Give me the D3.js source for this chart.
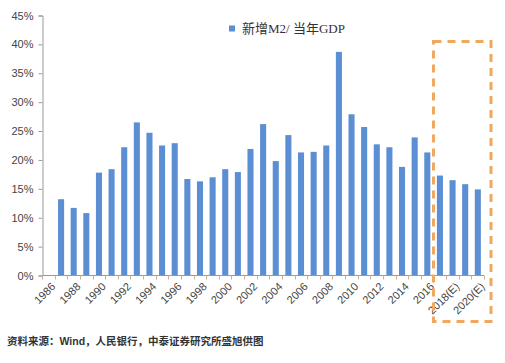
<!DOCTYPE html>
<html>
<head>
<meta charset="utf-8">
<script src="https://cdn.jsdelivr.net/npm/d3@7"></script>
<style>
  body { margin: 0; background: #fff; }
  svg { display: block; }
</style>
</head>
<body>
<svg></svg>
<script>

// years on the axis, 1986 has no bar
var years = ['1986','1987','1988','1989','1990','1991','1992','1993','1994','1995',
             '1996','1997','1998','1999','2000','2001','2002','2003','2004','2005',
             '2006','2007','2008','2009','2010','2011','2012','2013','2014','2015',
             '2016','2017','2018','2019','2020']
var tickNames = {'2018': '2018(E)', '2020': '2020(E)'}
// new M2 / GDP of the year, %
var ratio = [null, 13.2, 11.7, 10.8, 17.8, 18.4, 22.2, 26.5, 24.7, 22.5,
             22.9, 16.7, 16.3, 17.0, 18.4, 17.9, 21.9, 26.2, 19.8, 24.3,
             21.3, 21.4, 22.5, 38.7, 27.9, 25.7, 22.7, 22.2, 18.8, 23.9,
             21.3, 17.3, 16.5, 15.8, 14.9]
var yTicks = [0, 5, 10, 15, 20, 25, 30, 35, 40, 45]
var boxYears = ['2017', '2020']

var width = 505
var height = 363

var svg = d3.select('svg')
            .attr('width', width)
            .attr('height', height)

var xScale = d3.scaleBand()
               .domain(years)
               .range([42, 484])
               .paddingInner(0.5)
               .paddingOuter(0.25)

var xLine = d3.scaleBand().domain(years).range([42, 484])

var yScale = d3.scaleLinear()
               .domain([0, 45])
               .range([275.5, 15.5])

// y axis
var yAxis = svg.append('g')
               .attr('transform', 'translate(42.5,0)')
               .call(d3.axisLeft(yScale).tickValues(yTicks).tickSize(4).tickPadding(5)
                       .tickFormat(function(d){ return d + '%' }))
yAxis.select('.domain').attr('stroke', '#999')
yAxis.selectAll('.tick line').attr('stroke', '#999')
yAxis.selectAll('text')
     .attr('fill', '#444')
     .style('font-family', 'Liberation Sans, Arial, sans-serif')
     .style('font-size', '11px')

// bars
svg.append('g').selectAll('rect')
   .data(years.filter(function(d, i){ return ratio[i] != null }))
   .enter()
   .append('rect')
   .attr('x', function(d){ return xScale(d) + xScale.step() * 0.02 })
   .attr('y', function(d){ return yScale(ratio[years.indexOf(d)]) })
   .attr('width', xScale.step() * 0.48)
   .attr('height', function(d){ return yScale(0) - yScale(ratio[years.indexOf(d)]) })
   .attr('fill', '#5B8ED3')

// x axis
var xAxis = svg.append('g')
               .attr('transform', 'translate(0,275.5)')
xAxis.append('line')
     .attr('x1', 42).attr('x2', 484)
     .attr('stroke', '#999')
xAxis.selectAll('.tk')
     .data(years.concat(['end']))
     .enter()
     .append('line')
     .attr('x1', function(d, i){ return Math.round(42 + i * xLine.step()) + 0.5 })
     .attr('x2', function(d, i){ return Math.round(42 + i * xLine.step()) + 0.5 })
     .attr('y1', 0).attr('y2', 4)
     .attr('stroke', '#c9b596')

xAxis.selectAll('.lbl')
     .data(years.filter(function(d, i){ return i % 2 == 0 }))
     .enter()
     .append('text')
     .attr('transform', function(d){
       return 'translate(' + (xLine(d) + xLine.bandwidth() / 2 + 5) + ',9) rotate(-45)'
     })
     .attr('text-anchor', 'end')
     .attr('dy', '0.35em')
     .attr('fill', '#444')
     .style('font-family', 'Liberation Sans, Arial, sans-serif')
     .style('font-size', '11px')
     .text(function(d){ return tickNames[d] || d })

// legend
svg.append('rect')
   .attr('x', 229).attr('y', 25.5)
   .attr('width', 6).attr('height', 6)
   .attr('fill', '#5B8ED3')
svg.append('text')
   .attr('x', 242).attr('y', 33)
   .attr('fill', '#333')
   .style('font-family', 'Liberation Serif, Times New Roman, Noto Sans CJK SC, serif')
   .style('font-size', '13px')
   .text('新增M2/ 当年GDP')

// dashed box round the estimates
var boxLeft = xLine(boxYears[0])
var boxRight = xLine(boxYears[1]) + xLine.step() + 7
svg.append('rect')
   .attr('x', boxLeft)
   .attr('y', 41.5)
   .attr('width', boxRight - boxLeft)
   .attr('height', 280)
   .attr('fill', 'none')
   .attr('stroke', '#F0A860')
   .attr('stroke-width', 3)
   .attr('stroke-dasharray', '8,6')

// source note
svg.append('text')
   .attr('x', 7).attr('y', 345)
   .attr('fill', '#333')
   .style('font-family', 'Liberation Sans, Noto Sans CJK SC, sans-serif')
   .style('font-size', '10.5px')
   .style('font-weight', 'bold')
   .text('资料来源：Wind，人民银行，中泰证券研究所盛旭供图')

</script>
</body>
</html>
